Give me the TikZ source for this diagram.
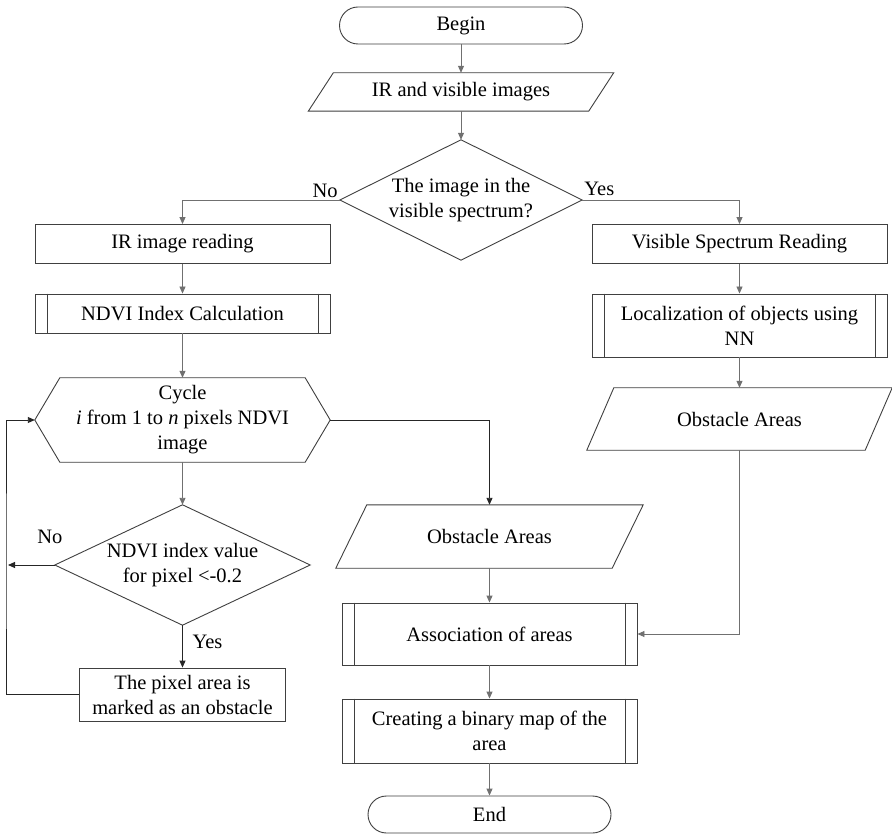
\documentclass[tikz,border=0pt]{standalone}
\usepackage{fontspec}
\setmainfont{Liberation Serif}
\usetikzlibrary{shapes.misc,arrows.meta,calc}
\definecolor{edge}{HTML}{404040}
\definecolor{conn}{HTML}{707070}
\begin{document}
\begin{tikzpicture}[x=1pt,y=1pt,
  txt/.style={font=\fontsize{20.5}{25}\selectfont, align=center, inner sep=0pt},
  box/.style={txt, rectangle, draw=edge, line width=0.9pt, minimum width=#1},
  hold/.style={txt, rectangle, minimum width=#1},
  term/.style={txt, rounded rectangle, draw=edge, line width=0.9pt, minimum width=243, minimum height=37},
  outl/.style={draw=edge, line width=0.9pt},
  conn/.style={draw=conn, line width=0.9pt, -{Triangle[width=6pt,length=7pt]}},
  connd/.style={draw=black!85, line width=0.9pt, -{Triangle[width=6pt,length=7pt]}},
  lbl/.style={font=\fontsize{20.5}{25}\selectfont, inner sep=0pt}
]
\useasboundingbox[fill=white] (0,0) rectangle (892,-834);

% nodes
\node[term] (begin) at (461,-25.5) {Begin};
\node[hold=280, minimum height=38] (ir) at (461,-92) {IR and visible images};
\node[hold=242, minimum height=120] (d1) at (461,-200) {The image in the\\visible spectrum?};
\node[box=295, minimum height=39] (irr) at (182.5,-244) {IR image reading};
\node[box=295, minimum height=39] (ndvi) at (182.5,-313.5) {NDVI Index Calculation};
\node[hold=295, minimum height=84] (hex) at (182.5,-420) {Cycle\\\textit{i} from 1 to \textit{n} pixels NDVI\\image};
\node[hold=255, minimum height=120] (d2) at (182.5,-565) {NDVI index value\\for pixel <-0.2};
\node[box=206, minimum height=53] (pix) at (182.5,-694.5) {The pixel area is\\marked as an obstacle};
\node[box=295, minimum height=39] (vsr) at (739.5,-244) {Visible Spectrum Reading};
\node[box=295, minimum height=63] (loc) at (739.5,-325.5) {Localization of objects using\\NN};
\node[hold=278, minimum height=62] (obr) at (739.5,-419) {Obstacle Areas};
\node[hold=276, minimum height=63] (obm) at (489.5,-536.5) {Obstacle Areas};
\node[box=295, minimum height=62] (assoc) at (489.5,-634) {Association of areas};
\node[box=295, minimum height=64] (bin) at (489.5,-731) {Creating a binary map of the\\area};
\node[term] (end) at (489.5,-814.5) {End};
\coordinate (lx) at (6,-565);

% parallelograms
\foreach \n/\s in {ir/25, obr/27, obm/31}
  \draw[outl] ($(\n.south west)+(-\s/2,0)$) -- ($(\n.south east)+(-\s/2,0)$)
    -- ($(\n.north east)+(\s/2,0)$) -- ($(\n.north west)+(\s/2,0)$) -- cycle;
% diamonds
\foreach \n in {d1,d2}
  \draw[outl] (\n.north) -- (\n.east) -- (\n.south) -- (\n.west) -- cycle;
% hexagon
\draw[outl] (hex.west) -- ($(hex.north west)+(25,0)$) -- ($(hex.north east)+(-25,0)$)
  -- (hex.east) -- ($(hex.south east)+(-25,0)$) -- ($(hex.south west)+(25,0)$) -- cycle;
% predefined process inner lines
\foreach \n in {ndvi,loc,assoc,bin}{
  \draw[outl] ($(\n.north west)+(12.5,0)$) -- ($(\n.south west)+(12.5,0)$);
  \draw[outl] ($(\n.north east)+(-12.5,0)$) -- ($(\n.south east)+(-12.5,0)$);
}

% connectors
\draw[conn] (begin.south) -- (ir.north);
\draw[conn] (ir.south) -- (d1.north);
\draw[conn] (d1.west) -| (irr.north);
\draw[conn] (d1.east) -| (vsr.north);
\draw[conn] (irr.south) -- (ndvi.north);
\draw[conn] (ndvi.south) -- (hex.north);
\draw[conn] (hex.south) -- (d2.north);
\draw[connd] (d2.south) -- (pix.north);
\draw[connd] (d2.west) -- ($(lx)+(2,0)$);
\draw[connd] (pix.west) -| (lx) |- (hex.west);
\draw[connd] (hex.east) -| (obm.north);
\draw[conn] (vsr.south) -- (loc.north);
\draw[conn] (loc.south) -- (obr.north);
\draw[conn] (obr.south) |- (assoc.east);
\draw[conn] (obm.south) -- (assoc.north);
\draw[conn] (assoc.south) -- (bin.north);
\draw[conn] (bin.south) -- (end.north);

% labels
\node[lbl, anchor=south east] (no1) at ($(d1.west)+(-2,2)$) {No};
\node[lbl, anchor=south west] (yes1) at ($(d1.east)+(2,4)$) {Yes};
\node[lbl] (no2) at ($(d2.west)+(-5,28)$) {No};
\node[lbl] (yes2) at ($(d2.south)+(25,-17)$) {Yes};
\end{tikzpicture}
\end{document}
